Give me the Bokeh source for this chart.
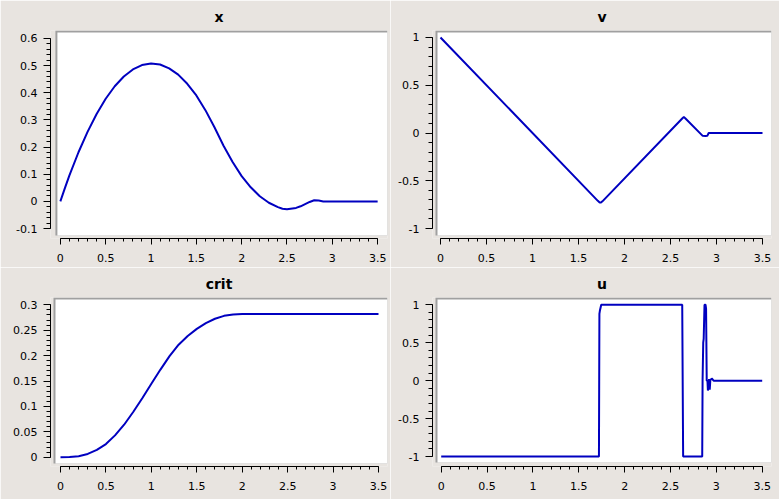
import numpy as np
from bokeh.plotting import figure
from bokeh.models import Range1d, BoxAnnotation, FixedTicker
from bokeh.layouts import gridplot
from bokeh.embed import file_html
from bokeh.resources import INLINE

# ---------------- data ----------------
x_t = [0.0, 0.05, 0.1, 0.2, 0.3, 0.4, 0.5, 0.6, 0.7, 0.8, 0.9, 1.0,
       1.1, 1.2, 1.3, 1.4, 1.5, 1.6, 1.7, 1.8, 1.9, 2.0,
       2.1, 2.2, 2.3, 2.4, 2.45, 2.5, 2.6, 2.65, 2.7,
       2.75, 2.8, 2.85, 2.9, 3.0, 3.5]
x_val = [0.0, 0.049, 0.096, 0.181, 0.256, 0.322, 0.378, 0.424, 0.46, 0.486, 0.502, 0.508,
         0.504, 0.49, 0.467, 0.433, 0.39, 0.336, 0.273, 0.205, 0.145, 0.093,
         0.052, 0.019, -0.005, -0.021, -0.027, -0.029, -0.024, -0.018, -0.01,
         -0.002, 0.004, 0.003, 0.0, 0.0, 0.0]

v_t = [0.0, 1.71, 1.73, 1.745, 1.76, 2.63, 2.645, 2.66, 2.85, 2.88, 2.9, 2.915, 3.5]
v_val = [1.0, -0.71, -0.727, -0.727, -0.715, 0.155, 0.167, 0.155, -0.03, -0.032, -0.03, 0.0, 0.0]

crit_t = [0.0, 0.1, 0.2, 0.3, 0.4, 0.5, 0.6, 0.7, 0.8, 0.9, 1.0, 1.1, 1.2,
          1.3, 1.4, 1.5, 1.6, 1.7, 1.8, 1.9, 2.0, 2.1, 3.5]
crit_val = [0.0, 0.0003, 0.002, 0.0065, 0.0145, 0.026, 0.043, 0.064, 0.089, 0.116, 0.1445,
            0.1725, 0.199, 0.2215, 0.2385, 0.2525, 0.264, 0.2725, 0.2782, 0.2808, 0.2817,
            0.2819, 0.282]

u_t = [0.0, 1.72, 1.725, 1.73, 1.745, 2.628, 2.638, 2.846, 2.85, 2.857, 2.862, 2.871,
       2.882, 2.888, 2.895, 2.903, 2.908, 2.913, 2.92, 2.928, 2.935, 2.942, 2.95, 2.97, 3.5]
u_val = [-1.0, -1.0, 0.88, 0.92, 1.0, 1.0, -1.0, -1.0, 0.0, 0.5, 0.55, 1.0,
         1.0, 0.95, 0.0, 0.0, -0.13, -0.1, 0.02, -0.12, 0.02, 0.01, 0.03, 0.0, 0.0]

# ticks
t_ticks = [0, 0.5, 1, 1.5, 2, 2.5, 3, 3.5]
t_labels = ["0", "0.5", "1", "1.5", "2", "2.5", "3", "3.5"]
x_ticks = [-0.1, 0, 0.1, 0.2, 0.3, 0.4, 0.5, 0.6]
x_labels = ["-0.1", "0", "0.1", "0.2", "0.3", "0.4", "0.5", "0.6"]
v_ticks = [-1, -0.5, 0, 0.5, 1]
v_labels = ["-1", "-0.5", "0", "0.5", "1"]
crit_ticks = [0, 0.05, 0.1, 0.15, 0.2, 0.25, 0.3]
crit_labels = ["0", "0.05", "0.1", "0.15", "0.2", "0.25", "0.3"]

# ---------------- style ----------------
BG = "#e8e4e0"
LINE = "#0000c0"
BORDER = "#a0a0a0"
FONT = "DejaVu Sans"


def minor(lo, hi, step):
    n = int(round((hi - lo) / step))
    return [round(lo + i * step, 4) for i in range(n + 1)]


def lin(p0, v0, p1, v1, px):
    s = (p1 - p0) / (v1 - v0)
    return v0 + (px - p0) / s


def panel(title, t, y, yticks, ylabels, yminor, box, xanch, yanch, canvas):
    fx, fy, w, h, L, R, T, B = box
    x0 = lin(*xanch, L)
    x1 = lin(*xanch, R)
    y0 = lin(*yanch, B)
    y1 = lin(*yanch, T)
    p = figure(width=w, height=h, output_backend="svg", toolbar_location=None,
               x_range=Range1d(x0, x1), y_range=Range1d(y0, y1),
               min_border_left=L - fx, min_border_right=fx + w - R,
               min_border_top=T - fy, min_border_bottom=fy + h - B,
               background_fill_color=BG, border_fill_color=BG,
               outline_line_color=None, title=title)
    p.title.align = "center"
    p.title.text_font = FONT
    p.title.text_font_size = "14px"
    p.title.text_font_style = "bold"
    p.title.text_color = "black"
    p.title.standoff = 12

    cl, cb = canvas
    p.add_layout(BoxAnnotation(left=lin(*xanch, cl), right=x1,
                               bottom=lin(*yanch, cb), top=y1,
                               fill_color=BORDER, fill_alpha=1, line_color=None,
                               level="underlay"))
    p.add_layout(BoxAnnotation(left=lin(*xanch, cl + 2), right=x1,
                               bottom=lin(*yanch, cb), top=lin(*yanch, T + 2),
                               fill_color="white", fill_alpha=1, line_color=None,
                               level="underlay"))

    p.line(t, y, line_color=LINE, line_width=2)

    p.xgrid.visible = False
    p.ygrid.visible = False

    p.xaxis.ticker = FixedTicker(ticks=t_ticks, minor_ticks=minor(0, 3.5, 0.1))
    p.xaxis.major_label_overrides = dict(zip([float(v) for v in t_ticks], t_labels))
    p.xaxis.bounds = (0, 3.5)
    p.yaxis.ticker = FixedTicker(ticks=yticks, minor_ticks=yminor)
    p.yaxis.major_label_overrides = dict(zip([float(v) for v in yticks], ylabels))
    p.yaxis.bounds = (min(yticks), max(yticks))

    for ax in (p.xaxis, p.yaxis):
        ax.axis_line_color = "black"
        ax.major_tick_line_color = "black"
        ax.minor_tick_line_color = "black"
        ax.major_tick_in = 0
        ax.minor_tick_in = 0
        ax.major_label_text_font = FONT
        ax.major_label_text_font_size = "11px"
        ax.major_label_text_color = "black"
    p.xaxis.major_tick_out = 6
    p.xaxis.minor_tick_out = 3
    p.xaxis.major_label_standoff = 9
    p.yaxis.major_tick_out = 7
    p.yaxis.minor_tick_out = 4
    p.yaxis.major_label_standoff = 6
    return p


SPLIT = 267
p1 = panel("x", x_t, x_val, x_ticks, x_labels, minor(-0.1, 0.6, 0.02),
           (0, 0, 390, SPLIT, 46, 388, 29, 238),
           (56, 0, 378, 3.5), (37, 0.6, 228, -0.1), (51, 235))
p2 = panel("v", v_t, v_val, v_ticks, v_labels, minor(-1, 1, 0.1),
           (390, 0, 389, SPLIT, 432, 771, 29, 238),
           (440, 0, 762, 3.5), (36, 1, 228, -1), (435, 235))
p3 = panel("crit", crit_t, crit_val, crit_ticks, crit_labels, minor(0, 0.3, 0.01),
           (0, SPLIT, 390, 499 - SPLIT, 50, 387, 296, 466),
           (60, 0, 378, 3.5), (303.3, 0.3, 456.7, 0), (53, 463))
p4 = panel("u", u_t, u_val, v_ticks, v_labels, minor(-1, 1, 0.1),
           (390, SPLIT, 389, 499 - SPLIT, 432, 771, 296, 466),
           (440.7, 0, 761.7, 3.5), (303.3, 1, 456, -1), (435, 462))

grid = gridplot([[p1, p2], [p3, p4]], toolbar_location=None)

open("out.html", "w").write(file_html(grid, INLINE))
